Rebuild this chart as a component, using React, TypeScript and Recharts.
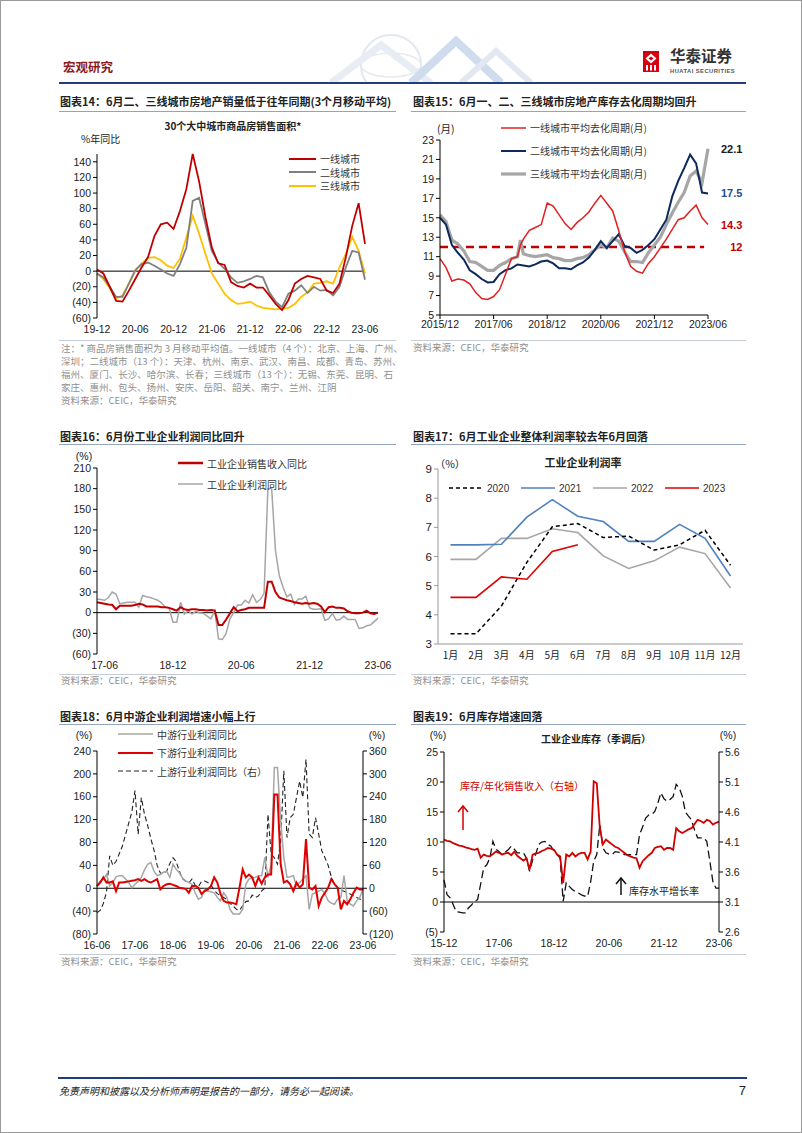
import React from "react";
import { Legend, Line, LineChart, ReferenceLine, XAxis, YAxis } from "recharts";

const CJK = '"Noto Sans CJK SC", "Noto Sans", sans-serif';
const NUM = '"Liberation Sans", Arial, sans-serif';

// month label helper: categories only, never values
const monthLabels = (y0: number, m0: number, n: number, sep = "-", fullYear = false) => {
  const out: string[] = [];
  for (let k = 0; k < n; k++) {
    const t = y0 * 12 + (m0 - 1) + k;
    const y = Math.floor(t / 12);
    const m = (t % 12) + 1;
    out.push(`${fullYear ? y : String(y).slice(2)}${sep}${String(m).padStart(2, "0")}`);
  }
  return out;
};

// ---------- 图表14 30个大中城市商品房销售面积 (19-12 .. 23-06) ----------
const months14 = monthLabels(2019, 12, 43);
const ticks14 = [0, 6, 12, 18, 24, 30, 36, 42];
const tier1Sales = [2, -3, -20, -38, -39, -25, -10, 5, 18, 45, 60, 62, 54, 77, 105, 150, 115, 69, 30, 10, 8, -14, -19, -21, -16, -21, -21, -31, -42, -50, -37, -16, -10, -6, -8, -10, -25, -28, -16, 18, 58, 87, 35];
const tier2Sales = [-3, -8, -20, -33, -33, -16, 1, 9, 11, 7, 2, -3, -6, 9, 30, 90, 94, 60, 26, 11, 3, -8, -15, -13, -10, -6, -8, -27, -39, -46, -29, -25, -18, -28, -20, -25, -24, -31, -20, 5, 26, 24, -11];
const tier3Sales = [-3, -10, -22, -35, -31, -16, 1, 10, 17, 18, 14, 7, 4, 16, 43, 71, 48, 22, -3, -16, -29, -37, -42, -41, -39, -44, -47, -48, -49, -48, -47, -42, -33, -27, -16, -15, -13, -16, 5, 22, 44, 26, -3];

// ---------- 图表15 去化周期 (2015/12 .. 2023/06, month index) ----------
const months15 = monthLabels(2015, 12, 91, "/", true);
const ticks15 = [0, 18, 36, 54, 72, 90];
const idx15 = [0, 2, 4, 6, 8, 10, 12, 14, 16, 18, 20, 22, 24, 26, 27, 28, 30, 32, 34, 36, 38, 40, 42, 44, 46, 48, 50, 52, 54, 56, 58, 60, 62, 64, 66, 68, 70, 72, 74, 76, 78, 80, 82, 84, 86, 88, 90];
const tier1Cycle = [10.8, 9.9, 8.5, 8.7, 8.6, 8.2, 7.3, 6.7, 6.6, 6.9, 7.6, 9.2, 10.8, 11.0, 12.2, 12.8, 13.7, 14.0, 14.3, 16.5, 16.2, 15.3, 14.4, 13.8, 14.5, 15.0, 15.6, 16.5, 17.3, 16.5, 15.7, 13.7, 11.5, 10.0, 9.5, 9.3, 10.3, 11.0, 11.9, 12.8, 13.8, 14.8, 15.0, 15.7, 16.3, 15.0, 14.3];
const tier2Cycle = [15.0, 14.3, 12.2, 11.4, 10.7, 9.6, 9.2, 8.7, 8.35, 8.4, 9.2, 9.6, 9.8, 10.2, 10.15, 10.1, 10.0, 10.2, 10.5, 10.6, 10.3, 9.8, 9.8, 9.7, 10.1, 10.4, 10.9, 11.7, 12.6, 11.9, 12.6, 13.3, 12.1, 11.9, 11.4, 11.7, 12.2, 12.8, 13.8, 14.8, 17.2, 18.8, 20.1, 21.5, 20.6, 17.6, 17.5];
const tier3Cycle = [15.3, 14.6, 12.7, 12.3, 11.6, 10.5, 10.4, 10.0, 9.6, 9.6, 10.1, 10.4, 10.8, 11.0, 12.7, 11.3, 11.1, 11.0, 11.1, 11.2, 10.9, 10.8, 10.6, 10.6, 10.8, 10.9, 11.2, 11.7, 12.2, 11.9, 12.9, 12.6, 11.5, 10.5, 10.5, 10.4, 11.4, 12.2, 13.0, 14.3, 15.5, 16.6, 17.6, 19.3, 19.8, 18.6, 22.1];
const cycleLine = 12;

// ---------- 图表16 (17-04 .. 23-06) ----------
const months16 = monthLabels(2017, 4, 75);
const ticks16 = [2, 20, 38, 56, 74];
const revenueYoy = [15, 14, 13, 12, 11.5, 5, 10, 10, 10, 10, 11, 13, 12, 9, 9, 9, 9, 8, 8, 7, 5, 3, 8, 5, 4, 5, 5, 4, 4, 3, 4, 3, -18, -18, -10, -1, 8, 2, 4, 5, 7, 7, 7, 7, 7, 45, 45, 30, 22, 20, 18, 17, 15, 14, 13, 14, 13, 14, 13, 9, 1, 8, 9, 7, 7, 6, 2, 0, -1, -1, 0, 3, -1, -2, 0];
const profitYoy = [20, 19, 18, 22, 30, 27, 13, 14, 15, 15, 15, 8, 25, 23, 22, 20, 18, 14, 8, 7, -14, -14, 15, -2, 3, -2, 2, 0, -1, -5, -9, 3, -38, -39, -30, -9, 0, 11, 11, 18, 14, 26, 15, 19, 28, 180, 180, 90, 54, 37, 23, 27, 12, 20, 20, 24, 7, 5, 5, 6, -11, -9, -1, -11, -10, -5, -10, -10, -10, -23, -22, -19, -18, -13, -8];

// ---------- 图表17 工业企业利润率 ----------
const monthNames = ["1月", "2月", "3月", "4月", "5月", "6月", "7月", "8月", "9月", "10月", "11月", "12月"];
const margin2020 = [3.35, 3.35, 4.3, 5.8, 7.02, 7.13, 6.65, 6.7, 6.22, 6.4, 6.9, 5.7];
const margin2021 = [6.4, 6.4, 6.42, 7.35, 7.95, 7.38, 7.2, 6.52, 6.52, 7.1, 6.62, 5.33];
const margin2022 = [5.9, 5.9, 6.62, 6.62, 6.95, 6.82, 6.02, 5.59, 5.85, 6.32, 6.1, 4.92];
const margin2023 = [4.6, 4.6, 5.3, 5.22, 6.17, 6.4];

// ---------- 图表18 (16-06 .. 23-06) ----------
const months18 = monthLabels(2016, 6, 85);
const ticks18 = [0, 12, 24, 36, 48, 60, 72, 84];
const midstream = [4, 12, 16, 24, 4, 10, 20, 22, 22, 16, 10, 1, 7, 12, 19, 32, 42, 45, 30, 22, 24, 28, 30, 19, 42, 33, 27, 18, 13, 10, 7, -8, -19, -16, -2, -5, -6, -8, -16, -22, -8, -16, -37, -45, -45, -45, -37, 7, 16, 18, 19, 22, 22, 54, 19, 42, 211, 211, 118, 54, 19, 20, 22, 4, 10, 16, 22, -37, -10, -8, -5, -2, -10, -22, -26, -28, -19, -16, 22, -22, -28, -31, -22, -16, -2];
const downstream = [4, 10, 19, 10, 10, 12, -5, 10, 10, 11, 12, 13, 14, 16, 13, 16, 12, 10, 13, 16, -2, 4, 7, 8, 6, 4, 1, 0, -1, -8, 4, 4, 1, -10, -5, -2, 4, 19, 10, -10, -22, -25, -25, -26, -28, 1, 33, 19, 24, 19, 4, 19, 8, 19, 24, 24, 164, 164, 42, 10, 13, 7, -5, 10, 1, 7, 86, 1, -2, 4, -31, -16, -8, 1, 16, 7, 1, -37, -22, -28, -19, -8, 1, -2, -2];
const upstream = [-64, -58, -40, -10, 85, 60, 70, 90, 110, 140, 170, 200, 256, 142, 238, 194, 165, 130, 100, 60, 40, 38, 45, 65, 80, 70, 45, 25, 18, 14, 24, 8, 4, 18, 19, 15, 8, -5, -14, -20, -24, -30, -40, -46, -55, -58, -46, -35, -33, -18, -24, -20, -7, 0, 194, 89, 80, 63, 124, 308, 133, 185, 194, 238, 281, 238, 338, 142, 133, 185, 142, 98, 80, 60, 30, 10, 2, -5, -8, -11, -15, -20, -24, -28, -33];

// ---------- 图表19 (15-12 .. 23-06) ----------
const months19 = monthLabels(2015, 12, 91);
const ticks19 = [0, 18, 36, 54, 72, 90];
const inventoryGrowth = [3.7, 1.2, 0.7, -0.4, -1.6, -1.7, -1.8, -1.8, -1.0, -0.5, 0.1, 0.4, 3.0, 5.7, 6.2, 7.3, 10.1, 8.8, 8.4, 7.9, 8.3, 8.7, 9.3, 8.8, 8.2, 8.2, 8.2, 7.3, 5.1, 7.0, 7.9, 9.6, 10.0, 10.1, 9.6, 9.3, 8.5, 7.9, 7.3, 0.1, 3.2, 2.6, 2.1, 1.7, 1.5, 1.2, 1.0, 0.9, 3.4, 6.8, 7.9, 12.9, 9.0, 8.2, 8.0, 7.9, 8.4, 8.3, 8.2, 7.9, 7.9, 7.9, 7.9, 7.9, 11.2, 12.5, 14.0, 14.5, 14.6, 15.1, 16.5, 18.2, 17.2, 16.8, 17.1, 17.6, 19.6, 19.0, 17.6, 15.0, 14.3, 13.7, 12.0, 10.7, 10.7, 10.7, 10.1, 6.8, 3.4, 2.3, 2.3];
const inventoryToSales = [4.14, 4.12, 4.11, 4.08, 4.06, 4.04, 4.03, 4.01, 4.0, 3.98, 3.97, 3.99, 3.84, 3.89, 3.87, 3.86, 3.9, 3.94, 3.92, 3.89, 3.91, 3.92, 3.88, 3.94, 3.87, 3.83, 3.79, 3.83, 3.64, 3.89, 3.91, 3.92, 3.95, 3.97, 4.0, 3.99, 3.97, 3.89, 3.86, 3.42, 3.89, 3.86, 3.92, 3.86, 3.9, 3.92, 3.92, 3.81, 3.94, 5.11, 5.08, 4.33, 4.06, 4.14, 4.1, 4.06, 4.02, 4.0, 3.96, 3.92, 3.88, 3.86, 3.84, 3.83, 3.67, 3.78, 3.83, 3.88, 3.92, 4.0, 4.02, 4.03, 3.97, 4.0, 4.0, 3.97, 4.33, 4.28, 4.25, 4.28, 4.31, 4.33, 4.4, 4.47, 4.45, 4.42, 4.47, 4.45, 4.39, 4.42, 4.44];

// ---------- rows ----------
const rows14 = months14.map((label, i) => ({ i, label, t1: tier1Sales[i], t2: tier2Sales[i], t3: tier3Sales[i] }));
const rows15 = idx15.map((m, k) => ({ m, t1: tier1Cycle[k], t2: tier2Cycle[k], t3: tier3Cycle[k] }));
const rows16 = months16.map((label, i) => ({ i, label, rev: revenueYoy[i], prof: profitYoy[i] }));
const rows17 = monthNames.map((name, i) => ({
  name,
  y2020: margin2020[i],
  y2021: margin2021[i],
  y2022: margin2022[i],
  y2023: margin2023[i] ?? null,
}));
const rows18 = months18.map((label, i) => ({ i, label, mid: midstream[i], down: downstream[i], up: upstream[i] }));
const rows19 = months19.map((label, i) => ({ i, label, inv: inventoryGrowth[i], ratio: inventoryToSales[i] }));

const paren = (v: number) => (v < 0 ? `(${Math.abs(v)})` : `${v}`);
const tickFont = { fontSize: 10.5, fill: "#1a1a1a", fontFamily: NUM };
const black = { stroke: "#000" };

type Key = { label: string; color: string; width: number; dash?: string };

const KeyList = ({ items, rowH, lineLen, row = false, itemW = 0, font = CJK }: { items: Key[]; rowH: number; lineLen: number; row?: boolean; itemW?: number; font?: string }) => (
  <div style={{ display: "flex", flexDirection: row ? "row" : "column" }}>
    {items.map((k) => (
      <div key={k.label} style={{ display: "flex", alignItems: "center", height: rowH, width: row ? itemW : undefined }}>
        <svg width={lineLen} height={8} style={{ display: "block" }}>
          <line x1={0} y1={4} x2={lineLen} y2={4} stroke={k.color} strokeWidth={k.width} strokeDasharray={k.dash} />
        </svg>
        <span style={{ marginLeft: 4, fontSize: 10, color: "#333", fontFamily: font, whiteSpace: "nowrap" }}>{k.label}</span>
      </div>
    ))}
  </div>
);

const Txt = ({ x, y, children, size = 10, bold = false, color = "#222", anchor = "start", font = CJK, italic = false }: any) => {
  const tx = anchor === "middle" ? "-50%" : anchor === "end" ? "-100%" : "0";
  return (
    <div
      style={{
        position: "absolute",
        left: x,
        top: y,
        transform: `translate(${tx}, -50%)`,
        fontSize: size,
        fontWeight: bold ? 700 : 400,
        fontStyle: italic ? "italic" : "normal",
        color,
        fontFamily: font,
        whiteSpace: "nowrap",
        lineHeight: 1,
      }}
    >
      {children}
    </div>
  );
};

const HLine = ({ x1, x2, y, color, w = 1 }: any) => (
  <div style={{ position: "absolute", left: x1, top: y, width: x2 - x1, height: w, background: color }} />
);

const Box = ({ x, y, children }: any) => <div style={{ position: "absolute", left: x, top: y }}>{children}</div>;

const legendPos = (left: number, top: number) => ({ left, top, width: "auto" });

const keys14: Key[] = [
  { label: "一线城市", color: "#C00000", width: 2 },
  { label: "二线城市", color: "#808080", width: 2 },
  { label: "三线城市", color: "#FFC000", width: 2 },
];
const keys15: Key[] = [
  { label: "一线城市平均去化周期(月)", color: "#E02020", width: 1.5 },
  { label: "二线城市平均去化周期(月)", color: "#0D2A5C", width: 2 },
  { label: "三线城市平均去化周期(月)", color: "#A6A6A6", width: 3.2 },
];
const keys16: Key[] = [
  { label: "工业企业销售收入同比", color: "#C00000", width: 2.5 },
  { label: "工业企业利润同比", color: "#A6A6A6", width: 1.5 },
];
const keys17: Key[] = [
  { label: "2020", color: "#000", width: 1.5, dash: "4 3" },
  { label: "2021", color: "#4F81BD", width: 1.6 },
  { label: "2022", color: "#A6A6A6", width: 1.6 },
  { label: "2023", color: "#E00000", width: 1.6 },
];
const keys18: Key[] = [
  { label: "中游行业利润同比", color: "#A6A6A6", width: 1.5 },
  { label: "下游行业利润同比", color: "#E00000", width: 2.2 },
  { label: "上游行业利润同比（右）", color: "#222", width: 1.2, dash: "5 3" },
];

const endLabel = (color: string, last: number) => (p: any) =>
  p.index === last ? (
    <text x={p.x + 13} y={p.y} dy={4} fill={color} fontSize={11} fontWeight="bold" fontFamily={NUM}>
      {p.value}
    </text>
  ) : null;

const Chart14 = () => (
  <LineChart width={340} height={230} data={rows14} margin={{ top: 43, right: 31, bottom: 3, left: 0 }}>
    <XAxis type="number" dataKey="i" domain={[0, 42]} ticks={ticks14} interval={0} tickFormatter={(i) => months14[i]} axisLine={false} tickLine={false} tick={tickFont} height={20} />
    <YAxis domain={[-60, 150]} ticks={[-60, -40, -20, 0, 20, 40, 60, 80, 100, 120, 140]} interval={0} width={41} tickFormatter={paren} axisLine={black} tickLine={black} tickSize={4} tick={tickFont} />
    <ReferenceLine y={0} stroke="#000" />
    <Line type="linear" dataKey="t3" stroke="#FFC000" strokeWidth={1.8} dot={false} isAnimationActive={false} />
    <Line type="linear" dataKey="t2" stroke="#808080" strokeWidth={1.8} dot={false} isAnimationActive={false} />
    <Line type="linear" dataKey="t1" stroke="#C00000" strokeWidth={1.8} dot={false} isAnimationActive={false} />
    <Legend layout="vertical" align="center" verticalAlign="middle" wrapperStyle={legendPos(233, 41)} content={() => <KeyList items={keys14} rowH={13.5} lineLen={27} />} />
  </LineChart>
);

const Chart15 = () => (
  <LineChart width={350} height={230} data={rows15} margin={{ top: 29, right: 48, bottom: 6, left: 0 }}>
    <XAxis type="number" dataKey="m" domain={[0, 90]} ticks={ticks15} interval={0} tickFormatter={(m) => months15[m]} axisLine={black} tickLine={black} tickSize={4} tick={tickFont} height={20} />
    <YAxis domain={[5, 23]} ticks={[5, 7, 9, 11, 13, 15, 17, 19, 21, 23]} interval={0} width={34} axisLine={black} tickLine={black} tickSize={4} tick={tickFont} />
    <ReferenceLine
      segment={[{ x: 0, y: cycleLine }, { x: 88.7, y: cycleLine }]}
      stroke="#C00000"
      strokeWidth={2.6}
      strokeDasharray="8 5"
      label={{ value: String(cycleLine), position: "right", offset: 26, fill: "#C00000", fontSize: 11, fontWeight: "bold", fontFamily: NUM }}
    />
    <Line type="linear" dataKey="t3" stroke="#A6A6A6" strokeWidth={3.2} dot={false} isAnimationActive={false} label={endLabel("#1a1a1a", idx15.length - 1)} />
    <Line type="linear" dataKey="t2" stroke="#0D2A5C" strokeWidth={2} dot={false} isAnimationActive={false} label={endLabel("#1F4E8C", idx15.length - 1)} />
    <Line type="linear" dataKey="t1" stroke="#E02020" strokeWidth={1.5} dot={false} isAnimationActive={false} label={endLabel("#C00000", idx15.length - 1)} />
    <Legend layout="vertical" align="center" verticalAlign="middle" wrapperStyle={legendPos(95, 5)} content={() => <KeyList items={keys15} rowH={23} lineLen={25} />} />
  </LineChart>
);

const Chart16 = () => (
  <LineChart width={340} height={240} data={rows16} margin={{ top: 27, right: 18, bottom: 7, left: 0 }}>
    <XAxis type="number" dataKey="i" domain={[0, 74]} ticks={ticks16} interval={0} tickFormatter={(i) => months16[i]} axisLine={false} tickLine={false} tick={tickFont} height={20} />
    <YAxis domain={[-60, 210]} ticks={[-60, -30, 0, 30, 60, 90, 120, 150, 180, 210]} interval={0} width={41} tickFormatter={paren} axisLine={black} tickLine={black} tickSize={4} tick={tickFont} />
    <ReferenceLine y={0} stroke="#000" />
    <Line type="linear" dataKey="prof" stroke="#A6A6A6" strokeWidth={1.5} dot={false} isAnimationActive={false} />
    <Line type="linear" dataKey="rev" stroke="#C00000" strokeWidth={2} dot={false} isAnimationActive={false} />
    <Legend layout="vertical" align="center" verticalAlign="middle" wrapperStyle={legendPos(122, 11.5)} content={() => <KeyList items={keys16} rowH={21} lineLen={25} />} />
  </LineChart>
);

const Chart17 = () => (
  <LineChart width={350} height={240} data={rows17} margin={{ top: 28, right: 13, bottom: 17, left: 0 }}>
    <XAxis dataKey="name" padding={{ left: 12.5, right: 12.5 }} axisLine={{ stroke: "#999" }} tickLine={false} tick={{ ...tickFont, fontFamily: CJK, fontSize: 10 }} interval={0} height={20} />
    <YAxis domain={[3, 9]} ticks={[3, 4, 5, 6, 7, 8, 9]} interval={0} width={32} axisLine={{ stroke: "#999" }} tickLine={{ stroke: "#999" }} tickSize={4} tick={{ ...tickFont, fontSize: 11.5 }} />
    <Line type="linear" dataKey="y2022" stroke="#A6A6A6" strokeWidth={1.6} dot={false} isAnimationActive={false} />
    <Line type="linear" dataKey="y2021" stroke="#4F81BD" strokeWidth={1.6} dot={false} isAnimationActive={false} />
    <Line type="linear" dataKey="y2020" stroke="#000" strokeWidth={1.5} strokeDasharray="4 3" dot={false} isAnimationActive={false} />
    <Line type="linear" dataKey="y2023" stroke="#E00000" strokeWidth={1.6} dot={false} isAnimationActive={false} />
    <Legend layout="vertical" align="center" verticalAlign="middle" wrapperStyle={legendPos(43, 40)} content={() => <KeyList items={keys17} rowH={14} lineLen={34} row itemW={72} font={NUM} />} />
  </LineChart>
);

const Chart18 = () => (
  <LineChart width={340} height={240} data={rows18} margin={{ top: 30, right: 0, bottom: 9, left: 0 }}>
    <XAxis type="number" dataKey="i" domain={[0, 84]} ticks={ticks18} interval={0} tickFormatter={(i) => months18[i]} axisLine={false} tickLine={false} tick={tickFont} height={18} />
    <YAxis yAxisId="L" domain={[-80, 240]} ticks={[-80, -40, 0, 40, 80, 120, 160, 200, 240]} interval={0} width={41} tickFormatter={paren} axisLine={black} tickLine={black} tickSize={4} tick={tickFont} />
    <YAxis yAxisId="R" orientation="right" domain={[-120, 360]} ticks={[-120, -60, 0, 60, 120, 180, 240, 300, 360]} interval={0} width={33} tickFormatter={paren} axisLine={black} tickLine={black} tickSize={4} tick={tickFont} />
    <ReferenceLine yAxisId="L" y={0} stroke="#000" />
    <Line yAxisId="R" type="linear" dataKey="up" stroke="#222" strokeWidth={1.1} strokeDasharray="5 3" dot={false} isAnimationActive={false} />
    <Line yAxisId="L" type="linear" dataKey="mid" stroke="#A6A6A6" strokeWidth={1.5} dot={false} isAnimationActive={false} />
    <Line yAxisId="L" type="linear" dataKey="down" stroke="#E00000" strokeWidth={2} dot={false} isAnimationActive={false} />
    <Legend layout="vertical" align="center" verticalAlign="middle" wrapperStyle={legendPos(62, 4)} content={() => <KeyList items={keys18} rowH={18.5} lineLen={35} />} />
  </LineChart>
);

const Chart19 = () => (
  <LineChart width={350} height={240} data={rows19} margin={{ top: 31, right: 0, bottom: 11, left: 0 }}>
    <XAxis type="number" dataKey="i" domain={[0, 90]} ticks={ticks19} interval={0} tickFormatter={(i) => months19[i]} axisLine={false} tickLine={false} tick={tickFont} height={18} />
    <YAxis yAxisId="L" domain={[-5, 25]} ticks={[-5, 0, 5, 10, 15, 20, 25]} interval={0} width={38} tickFormatter={paren} axisLine={black} tickLine={black} tickSize={4} tick={tickFont} />
    <YAxis yAxisId="R" orientation="right" domain={[2.6, 5.6]} ticks={[2.6, 3.1, 3.6, 4.1, 4.6, 5.1, 5.6]} interval={0} width={37} tickFormatter={(v) => v.toFixed(1)} axisLine={black} tickLine={black} tickSize={4} tick={tickFont} />
    <ReferenceLine yAxisId="L" y={0} stroke="#000" />
    <Line yAxisId="L" type="linear" dataKey="inv" stroke="#111" strokeWidth={1.3} strokeDasharray="8 4" dot={false} isAnimationActive={false} />
    <Line yAxisId="R" type="linear" dataKey="ratio" stroke="#D00000" strokeWidth={1.8} dot={false} isAnimationActive={false} />
  </LineChart>
);

const Arrow = ({ x, y1, y2, color }: any) => (
  <svg style={{ position: "absolute", left: x - 6, top: y2 - 1, overflow: "visible" }} width={12} height={y1 - y2 + 2}>
    <line x1={6} y1={y1 - y2 + 1} x2={6} y2={1} stroke={color} strokeWidth={1.5} />
    <polyline points={`1,7 6,1 11,7`} fill="none" stroke={color} strokeWidth={1.5} />
  </svg>
);

const notes14 = [
  "注：* 商品房销售面积为 3 月移动平均值。一线城市（4 个）：北京、上海、广州、",
  "深圳；二线城市（13 个）：天津、杭州、南京、武汉、南昌、成都、青岛、苏州、",
  "福州、厦门、长沙、哈尔滨、长春；三线城市（13 个）：无锡、东莞、昆明、石",
  "家庄、惠州、包头、扬州、安庆、岳阳、韶关、南宁、兰州、江阴",
];

const SOURCE = "资料来源：CEIC，华泰研究";
const titleBlue = "#93A4BF";
const srcGray = "#8f8f8f";

export default function App() {
  return (
    <div
      style={{
        position: "absolute",
        left: 0,
        top: 0,
        width: 802,
        height: 1133,
        background: "#fff",
        border: "1px solid #9a9a9a",
        boxSizing: "border-box",
        overflow: "hidden",
      }}
    >
      {/* header watermark */}
      <svg style={{ position: "absolute", left: 290, top: 30 }} width={260} height={52}>
        <circle cx={100} cy={34} r={30} fill="none" stroke="#e3e8ee" strokeWidth={2} />
        <ellipse cx={100} cy={34} rx={30} ry={12} fill="none" stroke="#e6eaf0" strokeWidth={1.5} />
        <polyline points="40,52 90,14 140,52" fill="none" stroke="#e8edf4" strokeWidth={7} />
        <polyline points="120,52 165,10 210,52" fill="none" stroke="#cfdcee" strokeWidth={8} />
        <polyline points="170,52 205,20 240,52" fill="none" stroke="#e1e8f2" strokeWidth={6} />
      </svg>
      <Txt x={62} y={66} size={12.5} bold color="#8C1C1C">宏观研究</Txt>
      {/* logo */}
      <svg style={{ position: "absolute", left: 642, top: 50 }} width={16} height={21}>
        <rect x={0} y={0} width={16} height={21} fill="#D7000F" />
        <polygon points="8,2.5 13.5,7.5 8,12.5 2.5,7.5" fill="#fff" />
        <polygon points="8,5.5 10.5,7.5 8,9.5 5.5,7.5" fill="#D7000F" />
        <rect x={3} y={14} width={2} height={5.5} fill="#fff" />
        <rect x={7} y={14} width={2} height={5.5} fill="#fff" />
        <rect x={11} y={14} width={2} height={5.5} fill="#fff" />
      </svg>
      <Txt x={669} y={55} size={15.5} bold color="#333">华泰证券</Txt>
      <Txt x={669} y={71} size={5.8} bold color="#555" font={NUM}>
        <span style={{ letterSpacing: 0.45 }}>HUATAI SECURITIES</span>
      </Txt>
      <HLine x1={58} x2={745} y={81} color="#1F3D7A" w={2} />

      {/* titles */}
      <Txt x={59} y={100} size={11} bold>图表14：6月二、三线城市房地产销量低于往年同期(3个月移动平均)</Txt>
      <Txt x={412} y={100} size={11} bold>图表15：6月一、二、三线城市房地产库存去化周期均回升</Txt>
      <HLine x1={58} x2={395} y={110} color={titleBlue} />
      <HLine x1={410} x2={745} y={110} color={titleBlue} />

      {/* 图表14 */}
      <Txt x={232} y={125} size={10} bold anchor="middle">30个大中城市商品房销售面积*</Txt>
      <Txt x={80} y={138} size={10}>%年同比</Txt>
      <Box x={55} y={110}><Chart14 /></Box>
      <HLine x1={58} x2={395} y={339} color="#c5ccd6" />
      {notes14.map((t, k) => (
        <div
          key={k}
          style={{
            position: "absolute",
            left: 60,
            top: 341 + k * 13,
            width: 332,
            fontSize: 9.5,
            lineHeight: "13px",
            color: srcGray,
            fontFamily: CJK,
            whiteSpace: "nowrap",
            textAlign: "justify",
            textAlignLast: k < 3 ? "justify" : "left",
          }}
        >
          {t}
        </div>
      ))}
      <Txt x={60} y={400} size={9.5} color={srcGray}>{SOURCE}</Txt>

      {/* 图表15 */}
      <Txt x={436} y={128} size={10.5}>(月)</Txt>
      <Box x={405} y={110}><Chart15 /></Box>
      <HLine x1={410} x2={745} y={339} color="#c5ccd6" />
      <Txt x={412} y={347} size={9.5} color={srcGray}>{SOURCE}</Txt>

      {/* 图表16 / 17 */}
      <Txt x={59} y={435} size={11} bold>图表16：6月份工业企业利润同比回升</Txt>
      <Txt x={412} y={435} size={11} bold>图表17：6月工业企业整体利润率较去年6月回落</Txt>
      <HLine x1={58} x2={395} y={443} color={titleBlue} />
      <HLine x1={410} x2={745} y={443} color={titleBlue} />
      <Txt x={83} y={455} size={10.5} anchor="middle" font={NUM}>(%)</Txt>
      <Box x={55} y={440}><Chart16 /></Box>
      <Txt x={582} y={461} size={11} bold anchor="middle">工业企业利润率</Txt>
      <Txt x={449} y={463} size={10.5} anchor="middle">（%）</Txt>
      <Box x={405} y={440}><Chart17 /></Box>
      <HLine x1={58} x2={395} y={673} color="#c5ccd6" />
      <HLine x1={410} x2={745} y={673} color="#c5ccd6" />
      <Txt x={60} y={680} size={9.5} color={srcGray}>{SOURCE}</Txt>
      <Txt x={412} y={680} size={9.5} color={srcGray}>{SOURCE}</Txt>

      {/* 图表18 / 19 */}
      <Txt x={59} y={715} size={11} bold>图表18：6月中游企业利润增速小幅上行</Txt>
      <Txt x={412} y={715} size={11} bold>图表19：6月库存增速回落</Txt>
      <HLine x1={58} x2={395} y={723} color={titleBlue} />
      <HLine x1={410} x2={745} y={723} color={titleBlue} />
      <Txt x={83} y={734} size={10.5} anchor="middle" font={NUM}>(%)</Txt>
      <Txt x={376} y={734} size={10.5} anchor="middle" font={NUM}>(%)</Txt>
      <Box x={55} y={720}><Chart18 /></Box>
      <Txt x={437} y={734} size={10.5} anchor="middle" font={NUM}>(%)</Txt>
      <Txt x={727} y={734} size={10.5} anchor="middle" font={NUM}>(%)</Txt>
      <Txt x={595} y={738} size={10} bold anchor="middle">工业企业库存（季调后）</Txt>
      <Box x={405} y={720}><Chart19 /></Box>
      <Txt x={459} y={785} size={10} color="#D00000">库存/年化销售收入（右轴）</Txt>
      <Arrow x={462} y1={829} y2={805} color="#D00000" />
      <Arrow x={620} y1={894} y2={877} color="#111" />
      <Txt x={628} y={890} size={10} color="#222">库存水平增长率</Txt>
      <HLine x1={58} x2={395} y={953} color="#c5ccd6" />
      <HLine x1={410} x2={745} y={953} color="#c5ccd6" />
      <Txt x={60} y={961} size={9.5} color={srcGray}>{SOURCE}</Txt>
      <Txt x={412} y={961} size={9.5} color={srcGray}>{SOURCE}</Txt>

      {/* footer */}
      <HLine x1={57} x2={746} y={1076} color="#1F3D7A" w={2} />
      <Txt x={58} y={1090} size={10} italic color="#222">免责声明和披露以及分析师声明是报告的一部分，请务必一起阅读。</Txt>
      <Txt x={745} y={1089} size={13} anchor="end" font={NUM}>7</Txt>
    </div>
  );
}
